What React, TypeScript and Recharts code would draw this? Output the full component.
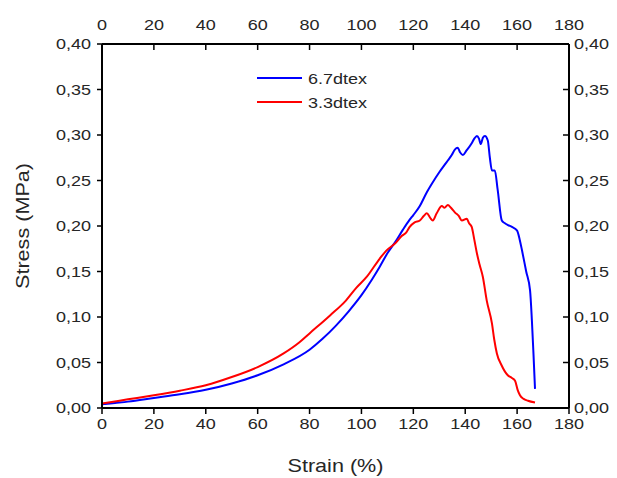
import React from 'react';
import { LineChart, Line, XAxis, YAxis } from 'recharts';

// Strain (%) / stress (MPa) readings, 6.7dtex fibre
const strain67 = [
  0, 5, 10, 20, 30, 40, 50, 60, 70, 80, 85, 90, 95, 100, 104, 107, 110, 113.4, 116, 118.6,
  120, 122.5, 125, 127.5, 130, 133.3, 134.8, 136, 137.1, 138, 139.1, 140.5, 142.5, 143.5, 144.5,
  145.3, 146, 146.8, 147.6, 148.7, 149.5, 150.3, 151.4, 152.5, 154.1, 155.3, 156.5, 158, 160, 161,
  161.9, 163.5, 165, 165.7, 166.3, 166.9,
];
const stress67 = [
  0.004, 0.0055, 0.007, 0.011, 0.015, 0.02, 0.027, 0.036, 0.048, 0.064, 0.076, 0.09, 0.106, 0.124,
  0.141, 0.155, 0.17, 0.184, 0.196, 0.207, 0.212, 0.222, 0.236, 0.248, 0.259, 0.272, 0.278, 0.284,
  0.286, 0.281, 0.278, 0.283, 0.291, 0.296, 0.299, 0.296, 0.29, 0.297, 0.299, 0.294, 0.275, 0.261,
  0.261, 0.24, 0.206, 0.203, 0.201, 0.199, 0.195, 0.185, 0.173, 0.15, 0.129, 0.096, 0.06, 0.021,
];

// 3.3dtex fibre
const strain33 = [
  0, 10, 20, 30, 40, 50, 60, 70, 76, 80, 88, 94, 98, 102, 107, 109.6, 113.4, 115.5, 117.3, 118.6,
  120.5, 122.5, 124, 125.2, 126.5, 127.5, 129, 131, 132, 133.3, 134.5, 136, 137.5, 138.7, 140.6,
  141.5, 142.5, 143.5, 144.5, 145.5, 146.8, 148.3, 150.3, 151.2, 152.2, 154, 156.4, 158, 159.2,
  160.2, 161.1, 162.5, 164.2, 166.9,
];
const stress33 = [
  0.005, 0.0095, 0.014, 0.019, 0.025, 0.034, 0.045, 0.06, 0.072, 0.082, 0.102, 0.118, 0.132, 0.144,
  0.164, 0.173, 0.182, 0.189, 0.193, 0.199, 0.204, 0.206, 0.211, 0.214, 0.209, 0.206, 0.214, 0.222,
  0.22, 0.223, 0.22, 0.215, 0.211, 0.206, 0.208, 0.203, 0.199, 0.185, 0.17, 0.158, 0.144, 0.118,
  0.093, 0.075, 0.06, 0.047, 0.036, 0.033, 0.03, 0.02, 0.014, 0.01, 0.008, 0.006,
];

const xTicks = [0, 20, 40, 60, 80, 100, 120, 140, 160, 180];
const yTicks = [0, 0.05, 0.1, 0.15, 0.2, 0.25, 0.3, 0.35, 0.4];
const seriesNames = ['6.7dtex', '3.3dtex'];
const seriesColors = ['#0000ff', '#ff0000'];

const data67 = strain67.map((x, i) => ({ x, y: stress67[i] }));
const data33 = strain33.map((x, i) => ({ x, y: stress33[i] }));

const FONT = '"Liberation Sans", Arial, sans-serif';
const TEXT = '#262626';
const STRETCH = 1.2;

const fmtY = (v: number) => v.toFixed(2).replace('.', ',');
const fmtX = (v: number) => String(v);

// tick text, slightly widened like the original figure
const makeTick = (fmt: (v: number) => string, dy: string) => (props: any) => {
  const { x, y, payload, textAnchor } = props;
  return (
    <text
      transform={`translate(${x},${y}) scale(${STRETCH},1)`}
      textAnchor={textAnchor}
      dy={dy}
      fill={TEXT}
      fontSize={15}
      fontFamily={FONT}
    >
      {fmt(payload.value)}
    </text>
  );
};

const axisLine = { stroke: '#000', strokeWidth: 2 };
const tickLine = { stroke: '#000', strokeWidth: 1.5 };

const XTitle = (props: any) => {
  const { viewBox } = props;
  const cx = viewBox.x + viewBox.width / 2;
  const cy = viewBox.y + viewBox.height - 6;
  return (
    <text transform={`translate(${cx},${cy}) scale(${STRETCH},1)`} textAnchor="middle" fill={TEXT} fontSize={18} fontFamily={FONT}>
      Strain (%)
    </text>
  );
};

const YTitle = (props: any) => {
  const { viewBox } = props;
  const cx = viewBox.x + 29;
  const cy = viewBox.y + viewBox.height / 2;
  return (
    <text transform={`translate(${cx},${cy}) rotate(-90) scale(${STRETCH},1)`} textAnchor="middle" fill={TEXT} fontSize={18} fontFamily={FONT}>
      Stress (MPa)
    </text>
  );
};

export default function App() {
  return (
    <div style={{ position: 'absolute', left: 0, top: 0, width: 617, height: 478, background: '#fff' }}>
      <LineChart width={617} height={478} margin={{ top: 0, right: 0, bottom: 0, left: 0 }}>
        <XAxis
          xAxisId="bottom"
          type="number"
          dataKey="x"
          domain={[0, 180]}
          ticks={xTicks}
          height={70}
          axisLine={axisLine}
          tickLine={tickLine}
          tickSize={6}
          tickMargin={4}
          tick={makeTick(fmtX, '0.71em')}
          label={<XTitle />}
        />
        <XAxis
          xAxisId="top"
          orientation="top"
          type="number"
          dataKey="x"
          domain={[0, 180]}
          ticks={xTicks}
          height={44}
          axisLine={axisLine}
          tickLine={tickLine}
          tickSize={-6}
          tickMargin={20}
          tick={makeTick(fmtX, '0')}
        />
        <YAxis
          yAxisId="left"
          type="number"
          domain={[0, 0.4]}
          ticks={yTicks}
          width={102}
          axisLine={axisLine}
          tickLine={tickLine}
          tickSize={5}
          tickMargin={6}
          tick={makeTick(fmtY, '0.355em')}
          label={<YTitle />}
        />
        <YAxis
          yAxisId="right"
          orientation="right"
          type="number"
          domain={[0, 0.4]}
          ticks={yTicks}
          width={48}
          axisLine={axisLine}
          tickLine={tickLine}
          tickSize={-6}
          tickMargin={11}
          tick={makeTick(fmtY, '0.355em')}
        />
        {/* invisible copy so the top and right axes get drawn */}
        <Line
          data={data67}
          dataKey="y"
          xAxisId="top"
          yAxisId="right"
          stroke="none"
          dot={false}
          activeDot={false}
          legendType="none"
          isAnimationActive={false}
        />
        <Line
          data={data67}
          dataKey="y"
          name={seriesNames[0]}
          xAxisId="bottom"
          yAxisId="left"
          type="monotone"
          stroke={seriesColors[0]}
          strokeWidth={2}
          dot={false}
          isAnimationActive={false}
        />
        <Line
          data={data33}
          dataKey="y"
          name={seriesNames[1]}
          xAxisId="bottom"
          yAxisId="left"
          type="monotone"
          stroke={seriesColors[1]}
          strokeWidth={2}
          dot={false}
          isAnimationActive={false}
        />
      </LineChart>

      {/* legend box inside the plot */}
      <div style={{ position: 'absolute', left: 257, top: 66, fontFamily: FONT, fontSize: 15, color: TEXT }}>
        {seriesNames.map((name, i) => (
          <div key={name} style={{ display: 'flex', alignItems: 'center', height: 24 }}>
            <div style={{ width: 45, height: 2, background: seriesColors[i], marginRight: 6 }} />
            <span style={{ display: 'inline-block', transform: `scaleX(${STRETCH})`, transformOrigin: 'left center' }}>{name}</span>
          </div>
        ))}
      </div>
    </div>
  );
}
